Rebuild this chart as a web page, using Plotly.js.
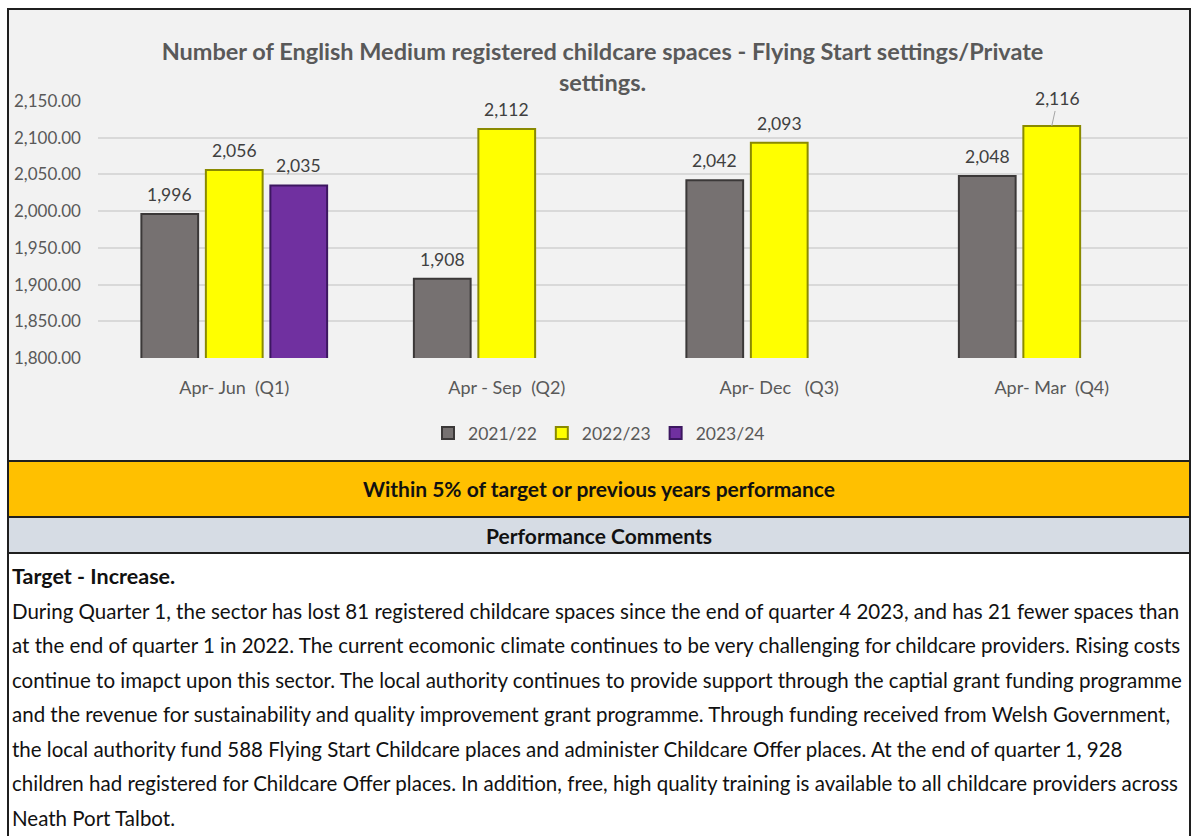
<!DOCTYPE html>
<html>
<head>
<meta charset="utf-8">
<script src="https://cdn.plot.ly/plotly-3.0.1.min.js"></script>
<style>
  body { margin: 0; background: #ffffff; font-family: Lato, "Noto Sans", sans-serif; }
  #frame { position: absolute; left: 7px; top: 8px; width: 1180px; height: 840px;
           border: 2px solid #1f1f1f; border-bottom: none; overflow: hidden; background: #fff; }
  #chart { position: absolute; left: 0; top: 0; width: 1180px; height: 450px; }
  .status { position: absolute; left: 0; top: 450px; width: 1180px; height: 54px;
            border-top: 2px solid #1f1f1f; background: #ffc000; color: #111;
            font-weight: bold; font-size: 21px; line-height: 54px; text-align: center; }
  .head { position: absolute; left: 0; top: 506px; width: 1180px; height: 34px;
          border-top: 2px solid #1f1f1f; background: #d6dce4; color: #111;
          font-weight: bold; font-size: 21px; line-height: 36px; text-align: center; }
  .comment { position: absolute; left: 0; top: 542px; width: 1180px; height: 300px;
             border-top: 2px solid #1f1f1f; padding: 5px 0 0 3px; box-sizing: border-box;
             color: #111; font-size: 20.5px; line-height: 34.5px; white-space: nowrap; }
  .comment b { font-weight: bold; font-size: 21.5px; }
</style>
</head>
<body>
<div id="frame">
  <div id="chart"></div>
  <div class="status">Within 5% of target or previous years performance</div>
  <div class="head">Performance Comments</div>
  <div class="comment">
    <b>Target - Increase.</b><br>
    During Quarter 1, the sector has lost 81 registered childcare spaces since the end of quarter 4 2023, and has 21 fewer spaces than<br>
    at the end of quarter 1 in 2022. The current ecomonic climate continues to be very challenging for childcare providers. Rising costs<br>
    continue to imapct upon this sector. The local authority continues to provide support through the captial grant funding programme<br>
    and the revenue for sustainability and quality improvement grant programme. Through funding received from Welsh Government,<br>
    the local authority fund 588 Flying Start Childcare places and administer Childcare Offer places. At the end of quarter 1, 928<br>
    children had registered for Childcare Offer places. In addition, free, high quality training is available to all childcare providers across<br>
    Neath Port Talbot.
  </div>
</div>
<script>
var quarters = ['Apr-\u00a0Jun\u00a0\u00a0(Q1)', 'Apr\u00a0-\u00a0Sep\u00a0\u00a0(Q2)', 'Apr-\u00a0Dec\u00a0\u00a0\u00a0(Q3)', 'Apr-\u00a0Mar\u00a0\u00a0(Q4)'];
var years = ['2021/22', '2022/23', '2023/24'];
var spaces2122 = [1996, 1908, 2042, 2048];
var spaces2223 = [2056, 2112, 2093, 2116];
var spaces2324 = [2035, null, null, null];

var fills = ['#767171', '#ffff00', '#7030a0'];
var edges = ['#3b3838', '#8a8a00', '#3c1760'];
var series = [spaces2122, spaces2223, spaces2324];
var bargap = 0.29;

var data = series.map(function(vals, i) {
    return {
        x: quarters,
        y: vals,
        type: 'bar',
        name: years[i],
        marker: { color: fills[i], line: { color: edges[i], width: 2 } }
    };
});

// value labels sit above each bar; the Q4 2022/23 one has a short leader line
var slot = (1 - bargap) / series.length;
var labels = [];
series.forEach(function(vals, j) {
    vals.forEach(function(v, i) {
        if (v === null) return;
        var a = {
            x: i + (j - (series.length - 1) / 2) * slot,
            y: v,
            xref: 'x', yref: 'y',
            text: v.toLocaleString('en-GB'),
            font: { size: 17.5, color: '#404040' },
            showarrow: false,
            yanchor: 'bottom',
            yshift: 7
        };
        if (j === 1 && i === 3) {
            a.showarrow = true;
            a.arrowhead = 0;
            a.arrowwidth = 1;
            a.arrowcolor = '#a6a6a6';
            a.ax = 6;
            a.ay = -27;
            a.yanchor = 'middle';
            a.yshift = 0;
        }
        labels.push(a);
    });
});

var layout = {
    width: 1180,
    height: 450,
    margin: { l: 89, r: 1, t: 91, b: 102 },
    paper_bgcolor: '#f2f2f2',
    plot_bgcolor: '#f2f2f2',
    font: { family: 'Lato, "Noto Sans", sans-serif', color: '#595959' },
    title: {
        text: 'Number of English Medium registered childcare spaces - Flying Start settings/Private<br>settings.',
        font: { size: 23.5, color: '#595959', weight: 'bold' },
        xref: 'container', x: 0.503,
        yref: 'container', y: 0.889, yanchor: 'middle'
    },
    barmode: 'group',
    bargap: bargap,
    bargroupgap: 0.12,
    xaxis: {
        tickfont: { size: 18, color: '#595959' },
        ticklabelstandoff: 17,
        showgrid: false,
        showline: false
    },
    yaxis: {
        range: [1800, 2150],
        dtick: 50,
        tickformat: ',.2f',
        tickfont: { size: 17, color: '#595959' },
        ticklabelstandoff: 16,
        gridcolor: '#d9d9d9',
        gridwidth: 2,
        zeroline: false,
        showline: false
    },
    annotations: labels,
    showlegend: true,
    legend: {
        orientation: 'h',
        xref: 'container', x: 0.5, xanchor: 'center',
        yref: 'container', y: 0.06, yanchor: 'middle',
        font: { size: 17.5, color: '#595959' },
        itemwidth: 30,
        bgcolor: 'rgba(0,0,0,0)'
    }
};

Plotly.newPlot('chart', data, layout, { displayModeBar: false, staticPlot: true });
</script>
</body>
</html>
